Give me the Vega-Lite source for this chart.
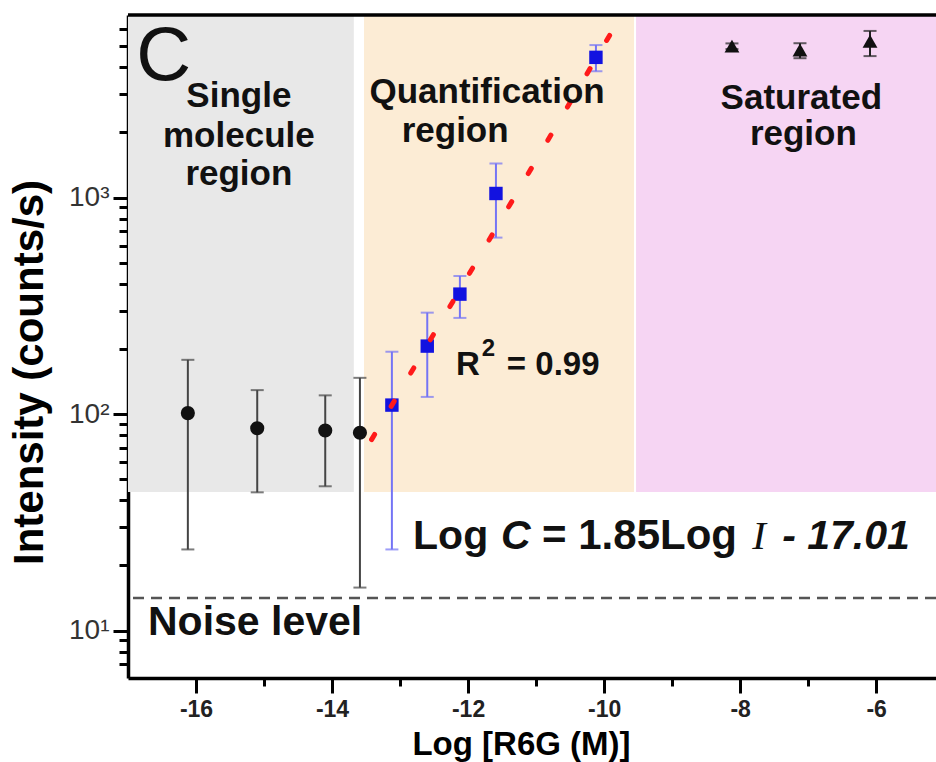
{
  "$schema": "https://vega.github.io/schema/vega-lite/v6.json",
  "width": 808,
  "height": 663,
  "autosize": {"type": "none"},
  "padding": {"left": 128, "top": 15, "right": 0, "bottom": 84},
  "background": "white",
  "config": {"view": {"stroke": null}, "font": "Liberation Sans"},
  "datasets": {
    "regions": [
      {"r": "single", "x0": -17, "x1": -13.68, "y0": 43.6, "y1": 6966},
      {"r": "quant", "x0": -13.53, "x1": -9.56, "y0": 43.6, "y1": 6966},
      {"r": "sat", "x0": -9.53, "x1": -5.12, "y0": 43.6, "y1": 6966}
    ],
    "single": [
      {"x": -16.12, "y": 101, "lo": 23.7, "hi": 178},
      {"x": -15.1, "y": 86, "lo": 43.5, "hi": 129},
      {"x": -14.1, "y": 84, "lo": 46.4, "hi": 122},
      {"x": -13.59, "y": 82, "lo": 15.8, "hi": 147}
    ],
    "quant": [
      {"x": -13.12, "y": 110, "lo": 23.7, "hi": 194},
      {"x": -12.6, "y": 206, "lo": 120, "hi": 294},
      {"x": -12.12, "y": 358, "lo": 278, "hi": 434},
      {"x": -11.59, "y": 1044, "lo": 653, "hi": 1436},
      {"x": -10.12, "y": 4440, "lo": 3830, "hi": 5060}
    ],
    "sat": [
      {"x": -8.12, "y": 5000, "lo": 4850, "hi": 5150},
      {"x": -7.12, "y": 4800, "lo": 4400, "hi": 5160},
      {"x": -6.09, "y": 5270, "lo": 4500, "hi": 5880}
    ],
    "fit": [
      {"x": -13.419, "y": 76.2},
      {"x": -9.919, "y": 5607}
    ],
    "regionLabels": [
      {"x": -15.37, "y": 2618, "t": "Single"},
      {"x": -15.37, "y": 1711, "t": "molecule"},
      {"x": -15.37, "y": 1142, "t": "region"},
      {"x": -11.72, "y": 2733, "t": "Quantification"},
      {"x": -12.19, "y": 1805, "t": "region"},
      {"x": -7.1, "y": 2564, "t": "Saturated"},
      {"x": -7.07, "y": 1748, "t": "region"}
    ]
  },
  "layer": [
    {
      "data": {"name": "regions"},
      "mark": {"type": "rect"},
      "encoding": {
        "x": {
          "field": "x0", "type": "quantitative", "title": "Log [R6G (M)]",
          "scale": {"domain": [-17, -5.12], "nice": false, "zero": false},
          "axis": {
            "values": [-16, -15, -14, -13, -12, -11, -10, -9, -8, -7, -6],
            "labelExpr": "datum.value % 2 == 0 ? '-' + abs(datum.value) : ''",
            "tickSize": {"condition": {"test": "datum.value % 2 == 0", "value": 15}, "value": 8},
            "tickWidth": 3, "tickColor": "black",
            "domainWidth": 3.5, "domainColor": "black",
            "grid": false,
            "labelFontSize": 23, "labelFontWeight": "bold", "labelColor": "#222",
            "labelPadding": 5, "labelOverlap": false, "labelFlush": false,
            "titleFontSize": 33, "titleFontWeight": "bold", "titleColor": "black",
            "titleX": 393, "titleY": 76, "titleAlign": "center", "titleBaseline": "alphabetic"
          }
        },
        "x2": {"field": "x1"},
        "y": {
          "field": "y0", "type": "quantitative", "title": "Intensity (counts/s)",
          "scale": {"type": "log", "domain": [6.04, 6966], "nice": false},
          "axis": {
            "values": [7, 8, 9, 10, 20, 30, 40, 50, 60, 70, 80, 90, 100, 200, 300, 400, 500, 600, 700, 800, 900, 1000, 2000, 3000, 4000, 5000, 6000],
            "labelExpr": "datum.value == 10 ? '10¹' : datum.value == 100 ? '10²' : datum.value == 1000 ? '10³' : ''",
            "tickSize": {"condition": {"test": "datum.value == 10 || datum.value == 100 || datum.value == 1000", "value": 15}, "value": 9},
            "tickWidth": 3, "tickColor": "black",
            "domainWidth": 3.5, "domainColor": "black",
            "grid": false,
            "labelFontSize": 28, "labelFontWeight": "normal", "labelColor": "#333",
            "labelPadding": 4, "labelOverlap": false, "labelFlush": false,
            "titleFontSize": 42, "titleFontWeight": "bold", "titleColor": "black",
            "titleX": -86, "titleY": 357, "titleAngle": 270, "titleAlign": "center", "titleBaseline": "alphabetic"
          }
        },
        "y2": {"field": "y1"},
        "color": {
          "field": "r", "type": "nominal", "legend": null,
          "scale": {"domain": ["single", "quant", "sat"], "range": ["#e8e8e8", "#fcecd5", "#f6d5f3"]}
        }
      }
    },
    {
      "data": {"values": [{}]},
      "mark": {"type": "rule", "color": "#555", "strokeWidth": 2.5, "strokeDash": [11, 7]},
      "encoding": {"y": {"datum": 14.13, "type": "quantitative"}}
    },
    {
      "data": {"values": [{}]},
      "mark": {"type": "rule", "color": "black", "strokeWidth": 3.5},
      "encoding": {"y": {"datum": 6966, "type": "quantitative"}}
    },
    {
      "data": {"name": "single"},
      "mark": {"type": "rule", "color": "#444", "strokeWidth": 2},
      "encoding": {
        "x": {"field": "x", "type": "quantitative", "title": "Log [R6G (M)]"},
        "y": {"field": "lo", "type": "quantitative", "title": "Intensity (counts/s)"},
        "y2": {"field": "hi"}
      }
    },
    {
      "data": {"name": "single"},
      "transform": [{"fold": ["lo", "hi"], "as": ["k", "v"]}],
      "mark": {"type": "tick", "orient": "horizontal", "size": 13, "thickness": 2, "color": "#444"},
      "encoding": {
        "x": {"field": "x", "type": "quantitative", "title": "Log [R6G (M)]"},
        "y": {"field": "v", "type": "quantitative", "title": "Intensity (counts/s)"}
      }
    },
    {
      "data": {"name": "single"},
      "mark": {"type": "point", "filled": true, "shape": "circle", "size": 200, "color": "#111", "opacity": 1},
      "encoding": {
        "x": {"field": "x", "type": "quantitative", "title": "Log [R6G (M)]"},
        "y": {"field": "y", "type": "quantitative", "title": "Intensity (counts/s)"}
      }
    },
    {
      "data": {"name": "quant"},
      "mark": {"type": "rule", "color": "#7474f5", "strokeWidth": 2},
      "encoding": {
        "x": {"field": "x", "type": "quantitative", "title": "Log [R6G (M)]"},
        "y": {"field": "lo", "type": "quantitative", "title": "Intensity (counts/s)"},
        "y2": {"field": "hi"}
      }
    },
    {
      "data": {"name": "quant"},
      "transform": [{"fold": ["lo", "hi"], "as": ["k", "v"]}],
      "mark": {"type": "tick", "orient": "horizontal", "size": 13, "thickness": 2, "color": "#7474f5"},
      "encoding": {
        "x": {"field": "x", "type": "quantitative", "title": "Log [R6G (M)]"},
        "y": {"field": "v", "type": "quantitative", "title": "Intensity (counts/s)"}
      }
    },
    {
      "data": {"name": "quant"},
      "mark": {"type": "point", "filled": true, "shape": "square", "size": 180, "color": "#1212e0", "opacity": 1},
      "encoding": {
        "x": {"field": "x", "type": "quantitative", "title": "Log [R6G (M)]"},
        "y": {"field": "y", "type": "quantitative", "title": "Intensity (counts/s)"}
      }
    },
    {
      "data": {"name": "sat"},
      "mark": {"type": "rule", "color": "#222", "strokeWidth": 2},
      "encoding": {
        "x": {"field": "x", "type": "quantitative", "title": "Log [R6G (M)]"},
        "y": {"field": "lo", "type": "quantitative", "title": "Intensity (counts/s)"},
        "y2": {"field": "hi"}
      }
    },
    {
      "data": {"name": "sat"},
      "transform": [{"fold": ["lo", "hi"], "as": ["k", "v"]}],
      "mark": {"type": "tick", "orient": "horizontal", "size": 13, "thickness": 2, "color": "#222"},
      "encoding": {
        "x": {"field": "x", "type": "quantitative", "title": "Log [R6G (M)]"},
        "y": {"field": "v", "type": "quantitative", "title": "Intensity (counts/s)"}
      }
    },
    {
      "data": {"name": "sat"},
      "mark": {"type": "point", "filled": true, "shape": "triangle-up", "size": 220, "color": "#111", "opacity": 1},
      "encoding": {
        "x": {"field": "x", "type": "quantitative", "title": "Log [R6G (M)]"},
        "y": {"field": "y", "type": "quantitative", "title": "Intensity (counts/s)"}
      }
    },
    {
      "data": {"name": "fit"},
      "mark": {"type": "line", "color": "#ff1a1a", "strokeWidth": 5, "strokeCap": "round", "strokeDash": [6, 32.6]},
      "encoding": {
        "x": {"field": "x", "type": "quantitative", "title": "Log [R6G (M)]"},
        "y": {"field": "y", "type": "quantitative", "title": "Intensity (counts/s)"}
      }
    },
    {
      "data": {"name": "regionLabels"},
      "mark": {"type": "text", "fontSize": 35, "fontWeight": "bold", "align": "center", "baseline": "alphabetic", "color": "#111"},
      "encoding": {
        "x": {"field": "x", "type": "quantitative", "title": "Log [R6G (M)]"},
        "y": {"field": "y", "type": "quantitative", "title": "Intensity (counts/s)"},
        "text": {"field": "t"}
      }
    },
    {
      "data": {"values": [{}]},
      "mark": {"type": "text", "text": "C", "fontSize": 76, "fontWeight": "normal", "align": "left", "baseline": "alphabetic", "color": "#111"},
      "encoding": {"x": {"datum": -16.88, "type": "quantitative"}, "y": {"datum": 3489, "type": "quantitative"}}
    },
    {
      "data": {"values": [{}]},
      "mark": {"type": "text", "text": "Noise level", "fontSize": 41, "fontWeight": "bold", "align": "left", "baseline": "alphabetic", "color": "#111"},
      "encoding": {"x": {"datum": -16.706, "type": "quantitative"}, "y": {"datum": 9.53, "type": "quantitative"}}
    },
    {
      "data": {"values": [{}]},
      "mark": {"type": "text", "text": "R", "fontSize": 33, "fontWeight": "bold", "align": "left", "baseline": "alphabetic", "color": "#111"},
      "encoding": {"x": {"datum": -12.176, "type": "quantitative"}, "y": {"datum": 151.4, "type": "quantitative"}}
    },
    {
      "data": {"values": [{}]},
      "mark": {"type": "text", "text": "2", "fontSize": 24, "fontWeight": "bold", "align": "left", "baseline": "alphabetic", "color": "#111"},
      "encoding": {"x": {"datum": -11.8, "type": "quantitative"}, "y": {"datum": 185.3, "type": "quantitative"}}
    },
    {
      "data": {"values": [{}]},
      "mark": {"type": "text", "text": "= 0.99", "fontSize": 33, "fontWeight": "bold", "align": "left", "baseline": "alphabetic", "color": "#111"},
      "encoding": {"x": {"datum": -11.43, "type": "quantitative"}, "y": {"datum": 151.4, "type": "quantitative"}}
    },
    {
      "data": {"values": [{}]},
      "mark": {"type": "text", "text": "Log", "fontSize": 41, "fontWeight": "bold", "align": "left", "baseline": "alphabetic", "color": "#111"},
      "encoding": {"x": {"datum": -12.809, "type": "quantitative"}, "y": {"datum": 23.79, "type": "quantitative"}}
    },
    {
      "data": {"values": [{}]},
      "mark": {"type": "text", "text": "C", "fontSize": 41, "fontWeight": "bold", "fontStyle": "italic", "align": "left", "baseline": "alphabetic", "color": "#111"},
      "encoding": {"x": {"datum": -11.515, "type": "quantitative"}, "y": {"datum": 23.79, "type": "quantitative"}}
    },
    {
      "data": {"values": [{}]},
      "mark": {"type": "text", "text": "= 1.85Log", "fontSize": 42, "fontWeight": "bold", "align": "left", "baseline": "alphabetic", "color": "#111"},
      "encoding": {"x": {"datum": -10.912, "type": "quantitative"}, "y": {"datum": 23.79, "type": "quantitative"}}
    },
    {
      "data": {"values": [{}]},
      "mark": {"type": "text", "text": "I", "font": "Liberation Serif", "fontSize": 41, "fontWeight": "normal", "fontStyle": "italic", "align": "left", "baseline": "alphabetic", "color": "#111"},
      "encoding": {"x": {"datum": -7.82, "type": "quantitative"}, "y": {"datum": 23.79, "type": "quantitative"}}
    },
    {
      "data": {"values": [{}]},
      "mark": {"type": "text", "text": "- 17.01", "fontSize": 41, "fontWeight": "bold", "fontStyle": "italic", "align": "left", "baseline": "alphabetic", "color": "#111"},
      "encoding": {"x": {"datum": -7.382, "type": "quantitative"}, "y": {"datum": 23.79, "type": "quantitative"}}
    }
  ]
}
